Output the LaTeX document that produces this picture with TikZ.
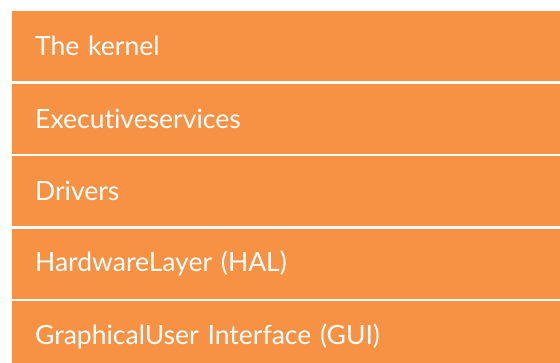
\documentclass[tikz,border=0pt]{standalone}
\usepackage{fontspec}
\setmainfont[Ligatures=NoCommon]{Lato}
\definecolor{barorange}{HTML}{F79143}
\tikzset{
  layerbar/.style={fill=barorange, draw=none, anchor=north west, minimum height=70pt,
    text width=502pt, align=left, inner xsep=23pt, inner ysep=0pt,
    text=white, font=\fontsize{26.5}{30}\selectfont}
}
\begin{document}
\begin{tikzpicture}[x=1pt,y=1pt]
\clip (0,0) rectangle (560,-363);
\fill[white] (0,0) rectangle (560,-363);
\node[layerbar] (b1) at (12,-11) {The kernel};
\node[layerbar] (b2) at (12,-83.5) {Executiveservices};
\node[layerbar] (b3) at (12,-156) {Drivers};
\node[layerbar] (b4) at (12,-228.5) {HardwareLayer (HAL)};
\node[layerbar] (b5) at (12,-301) {GraphicalUser Interface (GUI)};
\end{tikzpicture}
\end{document}
